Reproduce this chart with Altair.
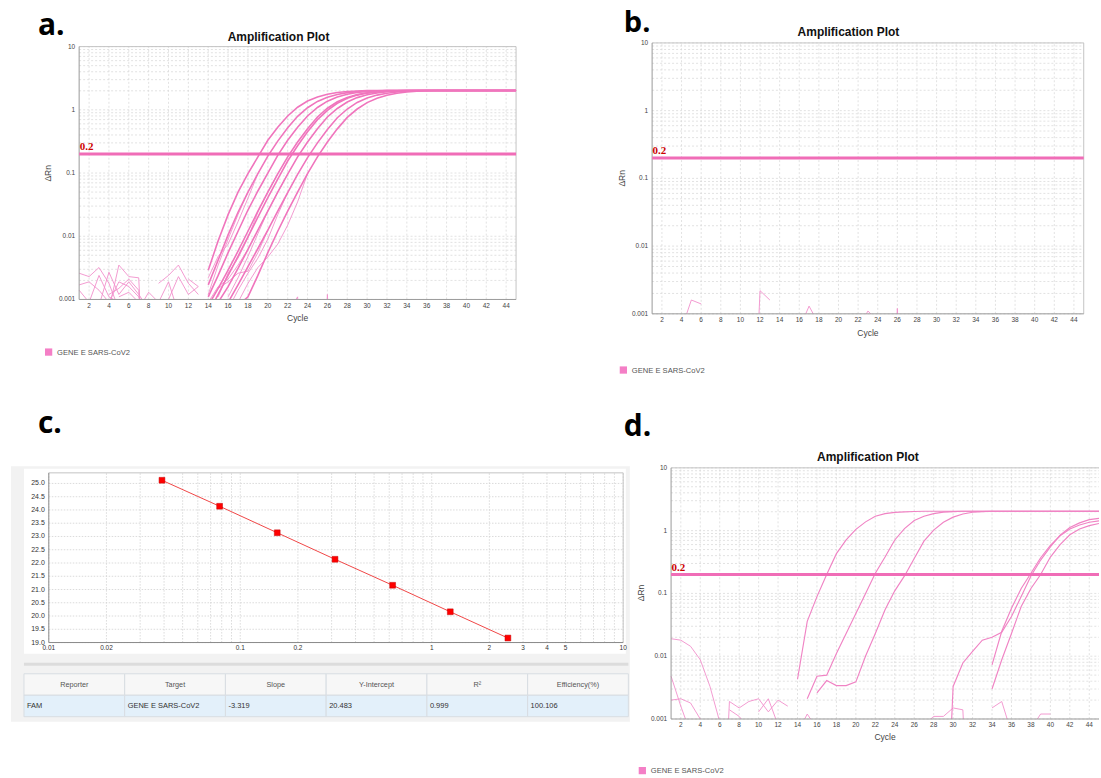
import altair as alt
import pandas as pd

# ------------------------------------------------------------------ data
TARGET = "GENE E SARS-CoV2"
PLOT_TITLE = "Amplification Plot"
THRESHOLD = 0.2
CYCLE_RANGE = [1, 45]
DRN_RANGE = [0.001, 10]
CYCLE_TICKS = [2, 4, 6, 8, 10, 12, 14, 16, 18, 20, 22, 24, 26, 28, 30, 32, 34, 36, 38, 40, 42, 44]
DRN_TICKS = [0.001, 0.01, 0.1, 1, 10]
DRN_GRID = [0.001, 0.002, 0.003, 0.004, 0.005, 0.006, 0.007, 0.008, 0.009,
            0.01, 0.02, 0.03, 0.04, 0.05, 0.06, 0.07, 0.08, 0.09,
            0.1, 0.2, 0.3, 0.4, 0.5, 0.6, 0.7, 0.8, 0.9,
            1, 2, 3, 4, 5, 6, 7, 8, 9, 10]

# panel a : standard dilution series (start cycle, delta Rn per cycle)
A1 = (14, [0.0029, 0.0085, 0.022, 0.05, 0.098, 0.18, 0.33, 0.53, 0.8, 1.1, 1.38, 1.6, 1.77, 1.88, 1.95, 1.99, 2.01,
           2.02, 2.02, 2.02, 2.02, 2.02, 2.02, 2.02, 2.02, 2.02, 2.02, 2.02, 2.02, 2.02, 2.02, 2.02])
A2 = (14, [0.0017, 0.0042, 0.0105, 0.024, 0.05, 0.098, 0.185, 0.32, 0.52, 0.79, 1.08, 1.36, 1.58, 1.75, 1.87, 1.94, 1.98, 2.0,
           2.02, 2.02, 2.02, 2.02, 2.02, 2.02, 2.02, 2.02, 2.02, 2.02, 2.02, 2.02, 2.02, 2.02])
A3 = (14, [0.0011, 0.0024, 0.0055, 0.012, 0.026, 0.052, 0.1, 0.19, 0.33, 0.53, 0.8, 1.09, 1.37, 1.59, 1.76, 1.88, 1.95, 1.99, 2.01,
           2.02, 2.02, 2.02, 2.02, 2.02, 2.02, 2.02, 2.02, 2.02, 2.02, 2.02, 2.02, 2.02])
A4 = (14, [0.0008, 0.0015, 0.0029, 0.0058, 0.012, 0.025, 0.05, 0.097, 0.18, 0.31, 0.5, 0.77, 1.06, 1.34, 1.57, 1.74, 1.86, 1.94, 1.98, 2.0,
           2.02, 2.02, 2.02, 2.02, 2.02, 2.02, 2.02, 2.02, 2.02, 2.02, 2.02, 2.02])
A4B = (14, [0.0006, 0.0012, 0.0024, 0.0048, 0.0098, 0.02, 0.041, 0.08, 0.155, 0.27, 0.45, 0.7, 0.98, 1.27, 1.52, 1.71, 1.84, 1.92, 1.97, 2.0,
            2.02, 2.02, 2.02, 2.02, 2.02, 2.02, 2.02, 2.02, 2.02, 2.02, 2.02, 2.02])
A5 = (14, [0.0005, 0.0009, 0.0016, 0.0031, 0.0062, 0.0125, 0.025, 0.05, 0.096, 0.18, 0.31, 0.5, 0.77, 1.05, 1.33, 1.56, 1.73, 1.85, 1.93, 1.98, 2.0,
           2.02, 2.02, 2.02, 2.02, 2.02, 2.02, 2.02, 2.02, 2.02, 2.02, 2.02])
A6 = (14, [0.0003, 0.0005, 0.0009, 0.0017, 0.0033, 0.0064, 0.0125, 0.025, 0.049, 0.095, 0.175, 0.3, 0.49, 0.75, 1.03, 1.31, 1.54, 1.71, 1.83, 1.92, 1.97, 2.0,
           2.02, 2.02, 2.02, 2.02, 2.02, 2.02, 2.02, 2.02, 2.02, 2.02])
A7 = (14, [0.0002, 0.0003, 0.0005, 0.0008, 0.0011, 0.0024, 0.0055, 0.012, 0.025, 0.05, 0.098, 0.18, 0.31, 0.5, 0.76, 1.03, 1.3, 1.53, 1.7, 1.83, 1.92, 1.97, 2.0,
           2.02, 2.02, 2.02, 2.02, 2.02, 2.02, 2.02, 2.02, 2.02])
# replicate traces visible only in the early exponential phase
AR1 = (14, [0.0012, 0.0035, 0.009, 0.022, 0.05])
AR2 = (14, [0.0022, 0.0048, 0.0075, 0.017, 0.04, 0.098])
AR3 = (15, [0.0011, 0.0026, 0.0045, 0.0095, 0.024, 0.05, 0.097])
AR4 = (16, [0.0011, 0.0022, 0.0048, 0.011, 0.025, 0.05, 0.096])
AR5 = (16, [0.0007, 0.0014, 0.0026, 0.0045, 0.009, 0.022, 0.049])
AR6 = (17, [0.0009, 0.0018, 0.0032, 0.0047, 0.0075, 0.015, 0.035, 0.098])
AR7 = (15, [0.0015, 0.0019, 0.0026, 0.0028, 0.0055, 0.0125])
AR8 = (14, [0.0009, 0.0016, 0.0021, 0.0035, 0.0062])
# baseline noise
AN1 = (1, [0.0026, 0.0023, 0.0032, 0.0018, 0.0007])
AN2 = (1, [0.0017, 0.0019, 0.0014, 0.0009])
AN3 = (1, [0.0014, 0.0009, 0.0024, 0.0011, 0.0009])
AN4 = (3, [0.0008, 0.0027, 0.0012, 0.0019, 0.0012, 0.0007])
AN5 = (4, [0.0007, 0.0035, 0.0023, 0.0022, 0.000001])
AN6 = (4, [0.0009, 0.0019, 0.0016, 0.0011, 0.0006])
AN7 = (4, [0.0012, 0.0015, 0.0021, 0.0014, 0.000001])
AN8 = (5, [0.0011, 0.0013, 0.0009])
AN9 = (7, [0.0007, 0.0013, 0.0009])
AN10 = (9, [0.0018, 0.0024, 0.0035, 0.0018, 0.0012])
AN11 = (9, [0.0009, 0.0019, 0.0006])
AN12 = (10, [0.001, 0.0023, 0.0012, 0.0016])
AN13 = (12, [0.0021, 0.0016])
AN14 = (22, [0.0006, 0.0011, 0.000001])
AN15 = (25, [0.000001, 0.0012, 0.000001])

# panel b : negative control, noise only
BN1 = (4, [0.0006, 0.0016, 0.0014])
BN2 = (11, [0.000001, 0.0022, 0.0016])
BN3 = (16, [0.0006, 0.0013, 0.0007])
BN4 = (22, [0.0006, 0.0011, 0.0008])
BN5 = (25, [0.000001, 0.0012, 0.000001])

# panel d : clinical samples
D1 = (14, [0.0043, 0.036, 0.089, 0.2, 0.43, 0.71, 1.05, 1.38, 1.7, 1.87, 1.95, 1.99, 2.02,
           2.04, 2.04, 2.04, 2.04, 2.04, 2.04, 2.04, 2.04, 2.04, 2.04, 2.04, 2.04, 2.04, 2.04, 2.04, 2.04, 2.04, 2.04, 2.04])
D2 = (15, [0.0021, 0.0048, 0.005, 0.011, 0.023, 0.048, 0.1, 0.21, 0.38, 0.71, 1.08, 1.45, 1.7, 1.87, 1.97, 2.01,
           2.04, 2.04, 2.04, 2.04, 2.04, 2.04, 2.04, 2.04, 2.04, 2.04, 2.04, 2.04, 2.04, 2.04, 2.04])
D3 = (16, [0.0026, 0.0041, 0.0034, 0.0034, 0.0039, 0.0101, 0.023, 0.055, 0.11, 0.19, 0.36, 0.68, 1.02, 1.36, 1.64, 1.84, 1.96, 2.01,
           2.04, 2.04, 2.04, 2.04, 2.04, 2.04, 2.04, 2.04, 2.04, 2.04, 2.04, 2.04])
D4 = (29, [0.000001, 0.0033, 0.0078, 0.0119, 0.018, 0.02, 0.024, 0.043, 0.089, 0.19, 0.34, 0.55, 0.85, 1.12, 1.33, 1.5, 1.57])
D5 = (34, [0.0073, 0.025, 0.058, 0.12, 0.21, 0.37, 0.58, 0.83, 1.06, 1.23, 1.36, 1.43])
D6 = (34, [0.003, 0.0088, 0.023, 0.062, 0.12, 0.2, 0.38, 0.6, 0.86, 1.06, 1.2, 1.3])
DN1 = (1, [0.019, 0.018, 0.0144, 0.0088, 0.0033, 0.0009, 0.0002])
DN2 = (1, [0.0048, 0.0016, 0.0006])
DN3 = (1, [0.002, 0.0021, 0.0018, 0.001, 0.0005])
DN4 = (6, [0.000001, 0.0019, 0.0015, 0.0019, 0.0021, 0.0013, 0.002, 0.0016])
DN5 = (7, [0.0014, 0.0011, 0.0007])
DN6 = (10, [0.0013, 0.0021, 0.0008])
DN7 = (14, [0.0006, 0.0012, 0.0007])
DN8 = (27, [0.0008, 0.0011, 0.0011, 0.0015, 0.0014, 0.000001])
DN9 = (34, [0.0015, 0.0019, 0.0006])
DN10 = (38, [0.0007, 0.0012, 0.0012])

# panel c : standard curve
CONC = [0.039, 0.078, 0.156, 0.3125, 0.625, 1.25, 2.5]
CT = [25.12, 24.14, 23.14, 22.14, 21.16, 20.16, 19.17]
CONC_TICKS = [0.01, 0.02, 0.1, 0.2, 1, 2, 3, 4, 5, 10]
CONC_GRID = [0.01, 0.02, 0.03, 0.04, 0.05, 0.06, 0.07, 0.08, 0.09,
             0.1, 0.2, 0.3, 0.4, 0.5, 0.6, 0.7, 0.8, 0.9,
             1, 2, 3, 4, 5, 6, 7, 8, 9, 10]
CT_TICKS = [19.0, 19.5, 20.0, 20.5, 21.0, 21.5, 22.0, 22.5, 23.0, 23.5, 24.0, 24.5, 25.0]
CT_RANGE = [19.0, 25.4]
CONC_RANGE = [0.01, 10]
TABLE_HEADERS = ["Reporter", "Target", "Slope", "Y-Intercept", "R\u00b2", "Efficiency(%)"]
TABLE_VALUES = ["FAM", TARGET, "-3.319", "20.483", "0.999", "100.106"]

# ------------------------------------------------------------------ style
FONT = "Liberation Sans"
PINK = "#f075bd"
PINK_THIN = "#f28fcb"
PINK_D = "#f083c4"
THRESH_PINK = "#f06db7"
LEGEND_PINK = "#f47fc6"
GRID = "#dadada"
AXIS_GREY = "#9a9a9a"


def series_df(series):
    rows = []
    for name, (start, vals) in series.items():
        for i, v in enumerate(vals):
            rows.append({"curve": name, "cycle": start + i, "drn": v})
    return pd.DataFrame(rows)


def one_row(**kw):
    return pd.DataFrame({k: [v] for k, v in kw.items()})


def amp_panel(main, thin, noise, view, plot, title_xy, letter, letter_xy, legend_xy,
              ylabel_xy, xlabel_dy, right_border=True, main_color=PINK, main_width=1.6,
              letter_size=30):
    vx, vy, vw, vh = view
    pl, pr, pt, pb = plot
    xs = alt.Scale(domain=CYCLE_RANGE, range=[pl - vx, pr - vx], nice=False, zero=False)
    ys = alt.Scale(type="log", domain=DRN_RANGE, range=[pb - vy, pt - vy], nice=False)

    def X(f):
        return alt.X(f, scale=xs, axis=None)

    def Y(f):
        return alt.Y(f, scale=ys, axis=None)

    hg = pd.DataFrame({"drn": DRN_GRID, "c0": CYCLE_RANGE[0], "c1": CYCLE_RANGE[1]})
    vg = pd.DataFrame({"cycle": CYCLE_TICKS, "d0": DRN_RANGE[0], "d1": DRN_RANGE[1]})
    layers = [
        alt.Chart(hg).mark_rule(color=GRID, strokeWidth=0.8, strokeDash=[2, 2]).encode(
            x=X("c0:Q"), x2="c1:Q", y=Y("drn:Q")),
        alt.Chart(vg).mark_rule(color=GRID, strokeWidth=0.8, strokeDash=[2, 2]).encode(
            x=X("cycle:Q"), y=Y("d0:Q"), y2="d1:Q"),
        alt.Chart(one_row(c0=CYCLE_RANGE[0], c1=CYCLE_RANGE[1], drn=DRN_RANGE[1])).mark_rule(
            color="#c4c4c4", strokeWidth=1).encode(x=X("c0:Q"), x2="c1:Q", y=Y("drn:Q")),
    ]
    if right_border:
        layers.append(alt.Chart(one_row(cycle=CYCLE_RANGE[1], d0=DRN_RANGE[0], d1=DRN_RANGE[1])).mark_rule(
            color="#c4c4c4", strokeWidth=1).encode(x=X("cycle:Q"), y=Y("d0:Q"), y2="d1:Q"))

    def lines(series, color, width):
        return alt.Chart(series_df(series)).mark_line(clip=True, color=color, strokeWidth=width).encode(
            x=X("cycle:Q"), y=Y("drn:Q"), detail="curve:N", order="cycle:Q")

    if noise:
        layers.append(lines(noise, PINK_THIN, 0.9))
    if thin:
        layers.append(lines(thin, PINK_THIN, 0.9))
    if main:
        layers.append(lines(main, main_color, main_width))

    # axes (lines, tick labels, titles)
    layers.append(alt.Chart(one_row(cycle=CYCLE_RANGE[0], d0=DRN_RANGE[0], d1=DRN_RANGE[1])).mark_rule(
        color=AXIS_GREY, strokeWidth=1).encode(x=X("cycle:Q"), y=Y("d0:Q"), y2="d1:Q"))
    layers.append(alt.Chart(one_row(c0=CYCLE_RANGE[0], c1=CYCLE_RANGE[1], drn=DRN_RANGE[0])).mark_rule(
        color=AXIS_GREY, strokeWidth=1).encode(x=X("c0:Q"), x2="c1:Q", y=Y("drn:Q")))
    layers.append(alt.Chart(pd.DataFrame({"cycle": CYCLE_TICKS, "drn": DRN_RANGE[0]})).mark_text(
        font=FONT, fontSize=6.5, color="#444", baseline="top", dy=3.5).encode(
        x=X("cycle:Q"), y=Y("drn:Q"), text=alt.Text("cycle:Q")))
    layers.append(alt.Chart(pd.DataFrame({"drn": DRN_TICKS, "cycle": CYCLE_RANGE[0]})).mark_text(
        font=FONT, fontSize=6.5, color="#444", baseline="middle", align="right", dx=-4).encode(
        x=X("cycle:Q"), y=Y("drn:Q"), text=alt.Text("drn:Q", format="~g")))
    layers.append(alt.Chart(one_row(cycle=23, drn=DRN_RANGE[0], t="Cycle")).mark_text(
        font=FONT, fontSize=8.5, color="#444", baseline="middle", dy=xlabel_dy).encode(
        x=X("cycle:Q"), y=Y("drn:Q"), text="t:N"))
    yx, yy = ylabel_xy
    layers.append(alt.Chart(one_row(t="\u0394Rn")).mark_text(
        font=FONT, fontSize=8.5, color="#444", baseline="middle", align="center", angle=270).encode(
        x=alt.value(yx - vx), y=alt.value(yy - vy), text="t:N"))

    # threshold
    layers.append(alt.Chart(one_row(c0=CYCLE_RANGE[0], c1=CYCLE_RANGE[1], drn=THRESHOLD)).mark_rule(
        color=THRESH_PINK, strokeWidth=3).encode(x=X("c0:Q"), x2="c1:Q", y=Y("drn:Q")))
    layers.append(alt.Chart(one_row(cycle=CYCLE_RANGE[0], drn=THRESHOLD, label="0.2")).mark_text(
        align="left", baseline="bottom", dx=0.5, dy=-2, font="Liberation Serif", fontWeight="bold",
        fontSize=11, color="#cc0000").encode(x=X("cycle:Q"), y=Y("drn:Q"), text="label:N"))

    # title, panel letter, legend
    tx, ty = title_xy
    layers.append(alt.Chart(one_row(t=PLOT_TITLE)).mark_text(
        font=FONT, fontWeight="bold", fontSize=12, align="center", baseline="alphabetic", color="#111").encode(
        x=alt.value(tx - vx), y=alt.value(ty - vy), text="t:N"))
    lx, ly = letter_xy
    layers.append(alt.Chart(one_row(t=letter)).mark_text(
        font="Open Sans", fontWeight="bold", fontSize=letter_size, align="left", baseline="alphabetic",
        color="#000").encode(x=alt.value(lx - vx), y=alt.value(ly - vy), text="t:N"))
    gx, gy = legend_xy
    layers.append(alt.Chart(one_row(t=TARGET)).mark_square(size=53, color=LEGEND_PINK, opacity=1).encode(
        x=alt.value(gx - vx), y=alt.value(gy - vy)))
    layers.append(alt.Chart(one_row(t=TARGET)).mark_text(
        font=FONT, fontSize=7.6, align="left", baseline="middle", color="#555").encode(
        x=alt.value(gx + 8.5 - vx), y=alt.value(gy + 0.5 - vy), text="t:N"))

    return alt.layer(*layers).properties(width=vw, height=vh)


# ---------------- panel a
panel_a = amp_panel(
    main={"A1": A1, "A2": A2, "A3": A3, "A4": A4, "A4B": A4B, "A5": A5, "A6": A6, "A7": A7},
    thin={"AR1": AR1, "AR2": AR2, "AR3": AR3, "AR4": AR4, "AR5": AR5, "AR6": AR6, "AR7": AR7, "AR8": AR8},
    noise={"AN1": AN1, "AN2": AN2, "AN3": AN3, "AN4": AN4, "AN5": AN5, "AN6": AN6, "AN7": AN7,
           "AN8": AN8, "AN9": AN9, "AN10": AN10, "AN11": AN11, "AN12": AN12, "AN13": AN13,
           "AN14": AN14, "AN15": AN15},
    view=(0, 0, 631, 299.3), plot=(79.3, 517, 46, 299.3),
    title_xy=(279, 40), letter="a.", letter_xy=(38, 34), legend_xy=(48.7, 352),
    ylabel_xy=(48, 173), xlabel_dy=18.5)

# ---------------- panel b
panel_b = amp_panel(
    main=None, thin=None,
    noise={"BN1": BN1, "BN2": BN2, "BN3": BN3, "BN4": BN4, "BN5": BN5},
    view=(640, 0, 461, 313.7), plot=(653.3, 1085.7, 42.3, 313.7),
    title_xy=(850, 35), letter="b.", letter_xy=(625, 31), legend_xy=(624.5, 370),
    ylabel_xy=(623, 178), xlabel_dy=19.5, letter_size=29)

# ---------------- panel d
panel_d = amp_panel(
    main={"D1": D1, "D2": D2, "D3": D3, "D4": D4, "D5": D5, "D6": D6},
    thin=None,
    noise={"DN1": DN1, "DN2": DN2, "DN3": DN3, "DN4": DN4, "DN5": DN5, "DN6": DN6,
           "DN7": DN7, "DN8": DN8, "DN9": DN9, "DN10": DN10},
    view=(640, 400, 461, 319.3), plot=(672.3, 1101, 467.7, 719.3),
    title_xy=(869.5, 461), letter="d.", letter_xy=(625, 436), legend_xy=(643.5, 771),
    ylabel_xy=(642, 593), xlabel_dy=18, right_border=False, main_color=PINK_D, main_width=1.15)

# ---------------- panel c
CVX, CVY, CVW, CVH = 0, 400, 631, 319.3
cx = alt.Scale(type="log", domain=CONC_RANGE, range=[48.9 - CVX, 624.3 - CVX], nice=False)
cy = alt.Scale(domain=CT_RANGE, range=[642.7 - CVY, 472.7 - CVY], nice=False, zero=False)


def CX(f):
    return alt.X(f, scale=cx, axis=None)


def CY(f):
    return alt.Y(f, scale=cy, axis=None)


bg = alt.Chart(one_row(k=1)).mark_rect(color="#f2f2f2").encode(
    x=alt.value(11 - CVX), x2=alt.value(631 - CVX), y=alt.value(466 - CVY), y2=alt.value(722 - CVY))
white_box = alt.Chart(one_row(k=1)).mark_rect(color="#ffffff").encode(
    x=alt.value(24 - CVX), x2=alt.value(627 - CVX), y=alt.value(468.5 - CVY), y2=alt.value(654 - CVY))
separator = alt.Chart(one_row(k=1)).mark_rect(color="#dcdcdc").encode(
    x=alt.value(24 - CVX), x2=alt.value(629.5 - CVX), y=alt.value(663 - CVY), y2=alt.value(666 - CVY))
c_vgrid = alt.Chart(pd.DataFrame({"conc": CONC_GRID, "y0": CT_RANGE[0], "y1": CT_RANGE[1]})).mark_rule(
    color="#d2d2d2", strokeWidth=0.8, strokeDash=[1.5, 1.5]).encode(x=CX("conc:Q"), y=CY("y0:Q"), y2="y1:Q")
c_hgrid = alt.Chart(pd.DataFrame({"ct": CT_TICKS, "x0": CONC_RANGE[0], "x1": CONC_RANGE[1]})).mark_rule(
    color="#d2d2d2", strokeWidth=0.8, strokeDash=[1.5, 1.5]).encode(x=CX("x0:Q"), x2="x1:Q", y=CY("ct:Q"))
c_top = alt.Chart(one_row(x0=CONC_RANGE[0], x1=CONC_RANGE[1], ct=CT_RANGE[1])).mark_rule(
    color="#c4c4c4").encode(x=CX("x0:Q"), x2="x1:Q", y=CY("ct:Q"))
c_right = alt.Chart(one_row(conc=CONC_RANGE[1], y0=CT_RANGE[0], y1=CT_RANGE[1])).mark_rule(
    color="#c4c4c4").encode(x=CX("conc:Q"), y=CY("y0:Q"), y2="y1:Q")
c_left = alt.Chart(one_row(conc=CONC_RANGE[0], y0=CT_RANGE[0], y1=CT_RANGE[1])).mark_rule(
    color="#8a8a8a").encode(x=CX("conc:Q"), y=CY("y0:Q"), y2="y1:Q")
c_bottom = alt.Chart(one_row(x0=CONC_RANGE[0], x1=CONC_RANGE[1], ct=CT_RANGE[0])).mark_rule(
    color="#8a8a8a").encode(x=CX("x0:Q"), x2="x1:Q", y=CY("ct:Q"))
c_xlab = alt.Chart(pd.DataFrame({"conc": CONC_TICKS, "ct": CT_RANGE[0]})).mark_text(
    font=FONT, fontSize=6.5, color="#333", baseline="top", dy=2.5).encode(
    x=CX("conc:Q"), y=CY("ct:Q"), text=alt.Text("conc:Q", format="~g"))
c_ylab = alt.Chart(pd.DataFrame({"ct": CT_TICKS, "conc": CONC_RANGE[0]})).mark_text(
    font=FONT, fontSize=7, color="#333", baseline="middle", align="right", dx=-4).encode(
    x=CX("conc:Q"), y=CY("ct:Q"), text=alt.Text("ct:Q", format=".1f"))
std_df = pd.DataFrame({"conc": CONC, "ct": CT})
c_line = alt.Chart(std_df).mark_line(color="#f04646", strokeWidth=1).encode(x=CX("conc:Q"), y=CY("ct:Q"))
c_pts = alt.Chart(std_df).mark_square(size=34, color="#ff0000", opacity=1, stroke="#c40000", strokeWidth=0.5).encode(
    x=CX("conc:Q"), y=CY("ct:Q"))
c_letter = alt.Chart(one_row(t="c.")).mark_text(
    font="Open Sans", fontWeight="bold", fontSize=30, align="left", baseline="alphabetic", color="#000").encode(
    x=alt.value(38 - CVX), y=alt.value(433 - CVY), text="t:N")
c_plot = alt.layer(bg, white_box, separator, c_vgrid, c_hgrid, c_top, c_right, c_left, c_bottom,
                   c_xlab, c_ylab, c_line, c_pts, c_letter)

rows = []
for h, v in zip(TABLE_HEADERS, TABLE_VALUES):
    rows.append({"col": h, "row": "header", "text": h})
    rows.append({"col": h, "row": "values", "text": v})
tdf = pd.DataFrame(rows)
tx = alt.Scale(type="band", domain=TABLE_HEADERS, range=[24 - CVX, 629.5 - CVX], paddingInner=0, paddingOuter=0)
ty = alt.Scale(type="band", domain=["header", "values"], range=[674 - CVY, 717 - CVY], paddingInner=0, paddingOuter=0)
cells = alt.Chart(tdf).mark_rect(stroke="#d8dde2", strokeWidth=1).encode(
    x=alt.X("col:N", scale=tx, axis=None), y=alt.Y("row:N", scale=ty, axis=None),
    fill=alt.Fill("row:N", scale=alt.Scale(domain=["header", "values"], range=["#f7f7f7", "#e3f0fa"]), legend=None))
head_txt = alt.Chart(tdf).transform_filter(alt.datum.row == "header").mark_text(
    font=FONT, fontSize=7.3, color="#555", baseline="middle").encode(
    x=alt.X("col:N", scale=tx, axis=None), y=alt.Y("row:N", scale=ty, axis=None), text="text:N")
val_txt = alt.Chart(tdf).transform_filter(alt.datum.row == "values").mark_text(
    font=FONT, fontSize=7.5, color="#333", baseline="middle", align="left", dx=3).encode(
    x=alt.X("col:N", scale=tx, axis=None, bandPosition=0), y=alt.Y("row:N", scale=ty, axis=None), text="text:N")
c_table = alt.layer(cells, head_txt, val_txt)

panel_c = alt.layer(c_plot, c_table).resolve_scale(x="independent", y="independent").properties(
    width=CVW, height=CVH)

chart = alt.concat(panel_a, panel_b, panel_c, panel_d, columns=2,
                   spacing={"row": 86.3, "column": 9}, bounds="flush").properties(
    padding={"left": 0, "top": 0, "right": 0, "bottom": 0}, background="white"
).configure_view(strokeWidth=0, stroke="transparent")

chart.save("out.html", embed_options={"renderer": "svg", "actions": False})
